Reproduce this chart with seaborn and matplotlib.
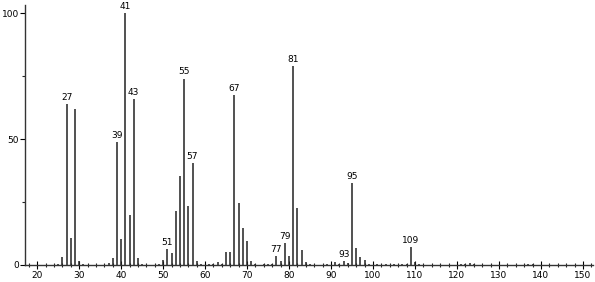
import matplotlib
matplotlib.use("Agg")
import matplotlib.pyplot as plt
import seaborn as sns
import pandas as pd
from matplotlib.ticker import MultipleLocator

mz = [25, 26, 27, 28, 29, 30, 31,
      37, 38, 39, 40, 41, 42, 43, 44, 45,
      49, 50, 51, 52, 53, 54, 55, 56, 57, 58, 59,
      61, 62, 63, 64, 65, 66, 67, 68, 69, 70, 71, 72,
      74, 75, 76, 77, 78, 79, 80, 81, 82, 83, 84, 85,
      89, 91, 92, 93, 94, 95, 96, 97, 98, 99,
      101, 103, 105, 107, 108, 109, 110, 111,
      121, 122, 123, 124, 137, 138]
intensity = [0.4, 3.3, 64, 10.6, 62, 1.6, 0.3,
             0.9, 2.9, 48.7, 10.3, 100, 20, 66, 2.6, 0.5,
             0.4, 2.0, 6.2, 4.8, 21.5, 35.5, 74, 23.5, 40.5, 1.6, 0.5,
             0.4, 0.4, 1.0, 0.4, 5.0, 5.2, 67.5, 24.8, 14.5, 9.5, 1.6, 0.4,
             0.3, 0.4, 0.5, 3.7, 1.6, 8.7, 3.7, 79, 22.6, 6.0, 1.2, 0.4,
             0.3, 1.0, 0.5, 1.5, 0.8, 32.5, 6.7, 3.0, 2.1, 0.5,
             0.3, 0.3, 0.3, 0.4, 0.4, 7.0, 1.2, 0.5,
             0.3, 0.4, 0.8, 0.3, 0.4, 0.4]
labeled_peaks = [27, 39, 41, 43, 51, 55, 57, 67, 77, 79, 81, 93, 95, 109]
x_ticks = [20, 30, 40, 50, 60, 70, 80, 90, 100, 110, 120, 130, 140, 150]
y_ticks = [0, 50, 100]

df = pd.DataFrame({"mz": mz, "intensity": intensity})

sns.set_theme(style="ticks")
plt.rcParams["font.family"] = ["DejaVu Sans"]

fig = plt.figure(figsize=(5.95, 2.82), dpi=100)
ax = fig.add_axes([25 / 595, 17 / 282, 568 / 595, 260 / 282])

ax.vlines(df["mz"], 0, df["intensity"], color="#222222", linewidth=1.1)

lookup = dict(zip(mz, intensity))
for p in labeled_peaks:
    ax.annotate(str(p), xy=(p, lookup[p]), xytext=(0, 1.5), textcoords="offset points",
                ha="center", va="bottom", fontsize=6.5, color="black")

ax.set_xlim(17.1, 152.4)
ax.set_ylim(0, 103.2)
ax.set_xticks(x_ticks)
ax.set_xticklabels([str(t) for t in x_ticks])
ax.xaxis.set_minor_locator(MultipleLocator(2))
ax.set_yticks(y_ticks)
ax.set_yticklabels([str(t) for t in y_ticks])
ax.yaxis.set_minor_locator(MultipleLocator(25))

ax.tick_params(axis="x", which="major", direction="inout", length=6, width=0.8, labelsize=6.5, pad=1, colors="black")
ax.tick_params(axis="x", which="minor", direction="inout", length=3.5, width=0.8)
ax.tick_params(axis="y", which="major", direction="out", length=3.5, width=0.8, labelsize=6.5, pad=1, colors="black")
ax.tick_params(axis="y", which="minor", direction="out", length=2.5, width=0.8)

sns.despine(ax=ax)
for s in ["left", "bottom"]:
    ax.spines[s].set_color("#333333")
    ax.spines[s].set_linewidth(1.0)
ax.set_xlabel("")
ax.set_ylabel("")

fig.savefig("out.png", dpi=100)
